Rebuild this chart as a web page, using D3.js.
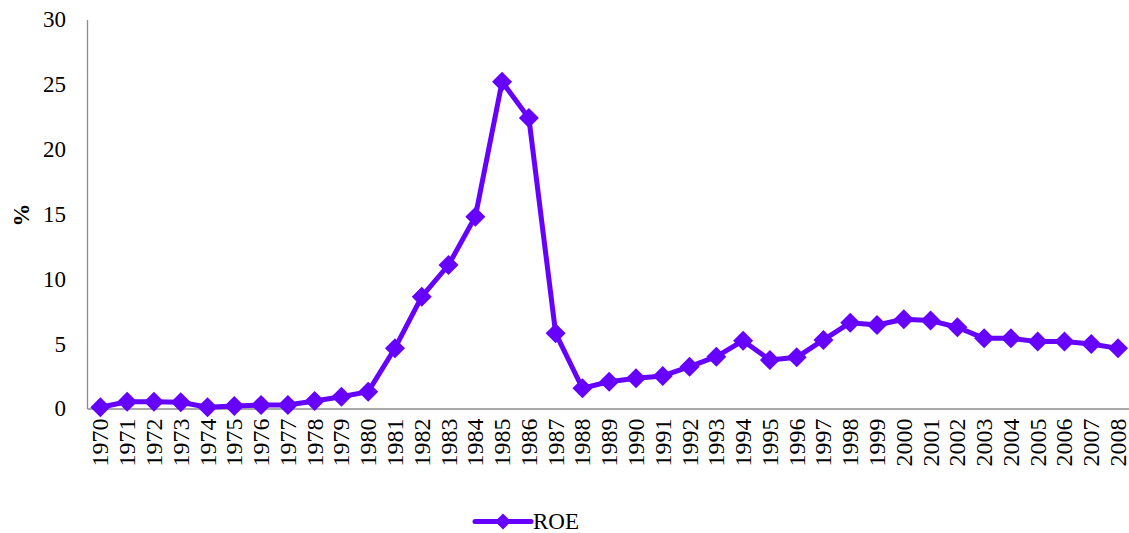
<!DOCTYPE html>
<html>
<head>
<meta charset="utf-8">
<script src="https://cdn.jsdelivr.net/npm/d3@7/dist/d3.min.js"></script>
<style>
  html, body { margin: 0; padding: 0; background: #fff; }
  svg { display: block; }
  text { font-family: "Liberation Serif", "Times New Roman", serif; fill: #000; }
</style>
</head>
<body>
<svg id="chart" width="1129" height="533"></svg>
<script>
// Return on equity by year, in percent
const years = ["1970","1971","1972","1973","1974","1975","1976","1977","1978","1979",
  "1980","1981","1982","1983","1984","1985","1986","1987","1988","1989",
  "1990","1991","1992","1993","1994","1995","1996","1997","1998","1999",
  "2000","2001","2002","2003","2004","2005","2006","2007","2008"];
const roe = [0.1, 0.52, 0.52, 0.48, 0.1, 0.19, 0.27, 0.27, 0.58, 0.91,
  1.3, 4.65, 8.63, 11.07, 14.8, 25.2, 22.4, 5.8, 1.56, 2.07,
  2.33, 2.51, 3.23, 4.0, 5.23, 3.74, 3.95, 5.29, 6.62, 6.44,
  6.88, 6.78, 6.27, 5.41, 5.41, 5.16, 5.16, 4.98, 4.64];
const yTicks = [0, 5, 10, 15, 20, 25, 30];
const seriesName = "ROE";
const yTitle = "%";

const color = "#6600FF";
const axisColor = "#8c8c8c";
const labelSize = "23px";
const yearSize = "24px";

const svg = d3.select("#chart");
const plotLeft = 87, plotTop = 19.6, plotBottom = 408.5;
const step = 26.78;
const plotRight = plotLeft + step * years.length;

const x = d3.scaleBand().domain(years).range([plotLeft, plotRight]).padding(0);
const y = d3.scaleLinear().domain([0, 30]).range([plotBottom, plotTop]);

// y axis: labels only, plain axis line
const yAxis = svg.append("g").attr("transform", `translate(${plotLeft},0)`)
  .call(d3.axisLeft(y).tickValues(yTicks).tickSize(0).tickPadding(21));
yAxis.attr("font-size", null).attr("font-family", null);
yAxis.select(".domain").attr("stroke", axisColor).attr("stroke-width", 1.3);
yAxis.selectAll("text").style("font-size", labelSize).attr("fill", "#000");

// x axis: rotated year labels
const xAxis = svg.append("g").attr("transform", `translate(0,${plotBottom})`)
  .call(d3.axisBottom(x).tickSize(0).tickPadding(0));
xAxis.attr("font-size", null).attr("font-family", null);
xAxis.select(".domain").attr("stroke", axisColor).attr("stroke-width", 1.3);
xAxis.selectAll("text")
  .style("font-size", yearSize).attr("fill", "#000")
  .attr("text-anchor", "end")
  .attr("dy", null)
  .attr("transform", "translate(0,10) rotate(-90)")
  .attr("x", 0).attr("y", 0)
  .attr("dominant-baseline", "central");

// y axis title
svg.append("text")
  .attr("transform", `translate(21,215) rotate(-90)`)
  .attr("text-anchor", "middle")
  .attr("dominant-baseline", "central")
  .style("font-size", labelSize).style("font-weight", "bold")
  .text(yTitle);

const cx = (d, i) => x(years[i]) + x.bandwidth() / 2;

// series line
svg.append("path")
  .datum(roe)
  .attr("fill", "none")
  .attr("stroke", color)
  .attr("stroke-width", 5)
  .attr("stroke-linejoin", "round")
  .attr("d", d3.line().x(cx).y(d => y(d)));

// diamond markers
const diamond = d3.symbol().type(d3.symbolSquare).size(200);
svg.append("g").selectAll("path")
  .data(roe)
  .join("path")
  .attr("d", diamond)
  .attr("fill", color)
  .attr("transform", (d, i) => `translate(${cx(d, i)},${y(d)}) rotate(45)`);

// legend
const lg = svg.append("g").attr("transform", "translate(475,521.5)");
lg.append("line").attr("x1", 0).attr("x2", 56).attr("y1", 0).attr("y2", 0)
  .attr("stroke", color).attr("stroke-width", 5).attr("stroke-linecap", "round");
lg.append("path").attr("d", d3.symbol().type(d3.symbolSquare).size(130))
  .attr("fill", color).attr("transform", "translate(28,0) rotate(45)");
lg.append("text").attr("x", 58).attr("y", 0)
  .attr("dominant-baseline", "central")
  .style("font-size", labelSize)
  .text(seriesName);
</script>
</body>
</html>
